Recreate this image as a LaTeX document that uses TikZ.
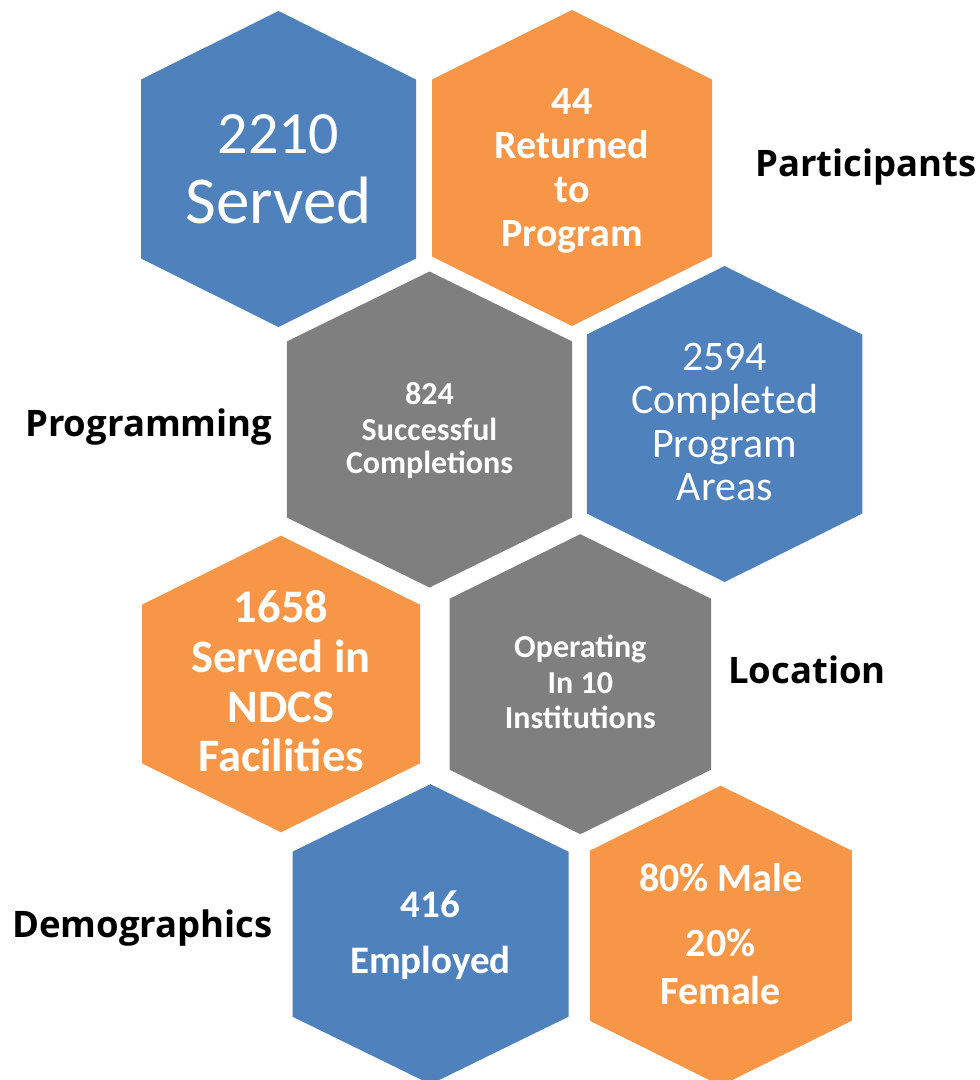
\documentclass[tikz,border=0pt]{standalone}
\usepackage{fontspec}
\setmainfont{Carlito}
\newfontfamily\labelfont{Open Sans}
\definecolor{hexblue}{RGB}{79,129,189}
\definecolor{hexorange}{RGB}{247,150,70}
\definecolor{hexgray}{RGB}{127,127,127}
\newcommand\hexshape[7]{%
  \fill[#1] ({#2-#4},{#3-#6}) -- (#2,{#3-#5}) -- ({#2+#4},{#3-#6}) -- ({#2+#4},{#3+#6}) -- (#2,{#3+#5}) -- ({#2-#4},{#3+#6}) -- cycle;
  \coordinate (#7) at (#2,#3);}
\tikzset{
  htxt/.style={text=white, inner sep=0pt, anchor=base},
  lbl/.style={text=black, inner sep=0pt, anchor=base west, font=\labelfont\bfseries\fontsize{36.5}{40}\selectfont},
}
\begin{document}
\begin{tikzpicture}[x=1pt,y=-1pt]
\useasboundingbox (0,0) rectangle (980,1080);
\fill[white] (0,0) rectangle (980,1080);
% hexagons
\hexshape{hexblue}{278.5}{169}{137.5}{158}{89.5}{h1}
\hexshape{hexorange}{572}{168}{140}{158}{88.5}{h2}
\hexshape{hexgray}{429.5}{429.5}{142.7}{158}{88}{h3}
\hexshape{hexblue}{724.6}{424}{137.7}{158}{89.5}{h4}
\hexshape{hexorange}{281}{684}{139}{148.3}{79.3}{h5}
\hexshape{hexgray}{580.3}{684.2}{130.7}{150}{85.5}{h6}
\hexshape{hexblue}{430.5}{934.2}{138}{150}{82.5}{h7}
\hexshape{hexorange}{720.8}{935.7}{131}{150}{85}{h8}
% hex 1
\node[htxt, font=\fontsize{67}{70}\selectfont] (t1a) at (278.5,153) {\fontsize{60}{70}\selectfont 2210};
\node[htxt, font=\fontsize{67}{70}\selectfont] (t1b) at (278.5,223) {Served};
% hex 2
\node[htxt, font=\bfseries\fontsize{40}{44}\selectfont] (t2a) at (572,114) {44};
\node[htxt, font=\bfseries\fontsize{40}{44}\selectfont] (t2b) at (572,158) {Returned};
\node[htxt, font=\bfseries\fontsize{40}{44}\selectfont] (t2c) at (572,202) {to};
\node[htxt, font=\bfseries\fontsize{40}{44}\selectfont] (t2d) at (572,246) {Program};
% hex 3
\node[htxt, font=\bfseries\fontsize{32}{34}\selectfont] (t3a) at (429.5,404) {824};
\node[htxt, font=\bfseries\fontsize{32}{34}\selectfont] (t3b) at (429.5,440) {Successful};
\node[htxt, font=\bfseries\fontsize{32}{34}\selectfont] (t3c) at (429.5,473) {Completions};
% hex 4
\node[htxt, font=\fontsize{42}{44}\selectfont] (t4a) at (724.6,370) {2594};
\node[htxt, font=\fontsize{42}{44}\selectfont] (t4b) at (724.6,413) {Completed};
\node[htxt, font=\fontsize{42}{44}\selectfont] (t4c) at (724.6,457) {Program};
\node[htxt, font=\fontsize{42}{44}\selectfont] (t4d) at (724.6,500) {Areas};
% hex 5
\node[htxt, font=\bfseries\fontsize{46.5}{50}\selectfont] (t5a) at (281,622) {1658};
\node[htxt, font=\bfseries\fontsize{46.5}{50}\selectfont] (t5b) at (281,672) {Served in};
\node[htxt, font=\bfseries\fontsize{46.5}{50}\selectfont] (t5c) at (281,722) {NDCS};
\node[htxt, font=\bfseries\fontsize{46.5}{50}\selectfont] (t5d) at (281,771) {Facilities};
% hex 6
\node[htxt, font=\bfseries\fontsize{32}{35}\selectfont] (t6a) at (580.3,657) {Operating};
\node[htxt, font=\bfseries\fontsize{32}{35}\selectfont] (t6b) at (580.3,693) {In 10};
\node[htxt, font=\bfseries\fontsize{32}{35}\selectfont] (t6c) at (580.3,728) {Institutions};
% hex 7
\node[htxt, font=\bfseries\fontsize{39}{42}\selectfont] (t7a) at (430.5,917) {416};
\node[htxt, font=\bfseries\fontsize{39}{42}\selectfont] (t7b) at (430.5,973) {Employed};
% hex 8
\node[htxt, font=\bfseries\fontsize{40}{42}\selectfont] (t8a) at (720.8,891) {80\% Male};
\node[htxt, font=\bfseries\fontsize{40}{42}\selectfont] (t8b) at (720.8,956) {20\%};
\node[htxt, font=\bfseries\fontsize{40}{42}\selectfont] (t8c) at (720.8,1004) {Female};
% side labels
\node[lbl] (lp) at (755,176) {Participants};
\node[lbl] (lg) at (25,436) {Programming};
\node[lbl] (ll) at (728,683) {Location};
\node[lbl] (ld) at (12,937) {Demographics};
\end{tikzpicture}
\end{document}
